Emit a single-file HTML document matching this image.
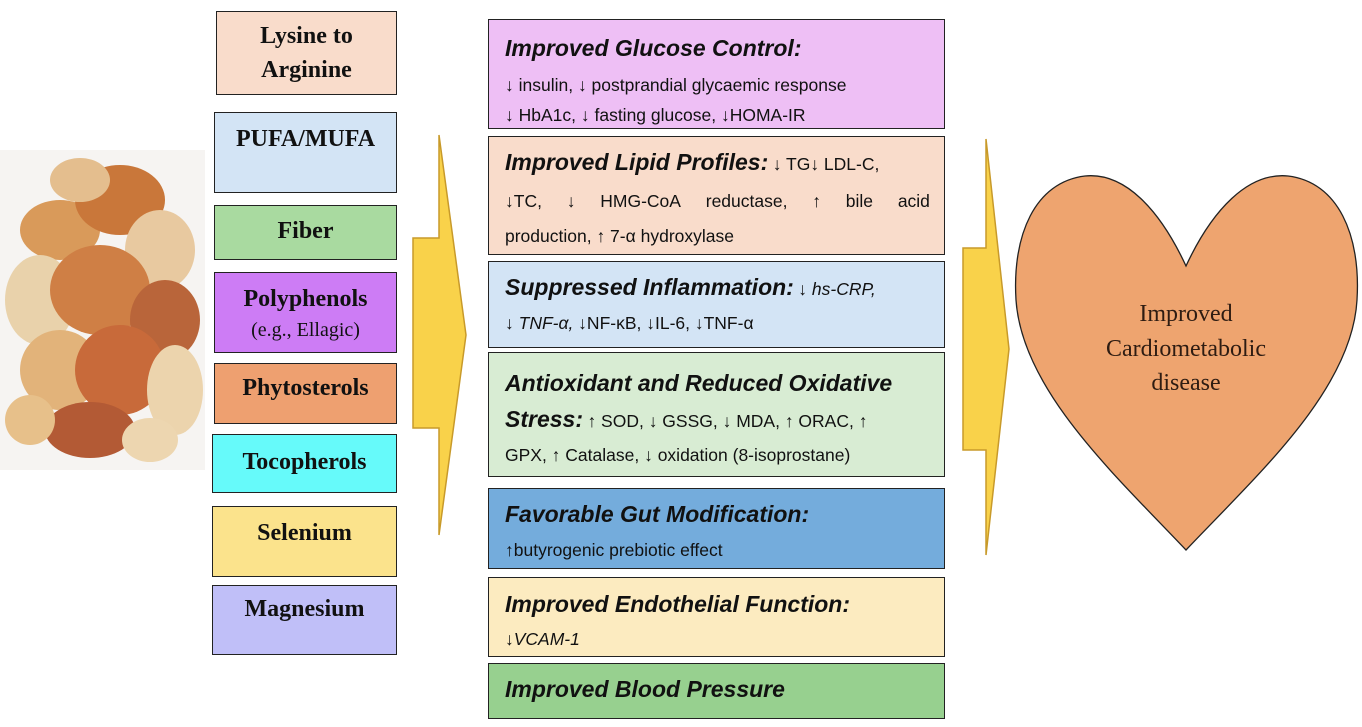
<!DOCTYPE html>
<html><head><meta charset="utf-8"><style>
body{margin:0;width:1362px;height:727px;background:#fff;position:relative;overflow:hidden;font-family:"Liberation Sans",sans-serif}
.l{position:absolute;border:1.5px solid #222;box-sizing:border-box;font-family:"Liberation Serif",serif;font-weight:bold;font-size:24px;color:#111;text-align:center}
.m{position:absolute;border:1.5px solid #222;box-sizing:border-box;left:488px;width:457px;padding:0 14px 0 16px;overflow:hidden;color:#111}
.h{font-weight:bold;font-style:italic;font-size:23px}
.b{font-size:17.5px}
.ln{position:absolute;left:16px;right:14px;white-space:nowrap}
</style></head><body>
<svg width="1362" height="727" style="position:absolute;left:0;top:0">
<g>
<rect x="0" y="150" width="205" height="320" fill="#f6f4f2"/>
<ellipse cx="60" cy="230" rx="40" ry="30" fill="#d99a5a"/>
<ellipse cx="120" cy="200" rx="45" ry="35" fill="#c9773a"/>
<ellipse cx="160" cy="250" rx="35" ry="40" fill="#e8c9a0"/>
<ellipse cx="40" cy="300" rx="35" ry="45" fill="#e9d2ab"/>
<ellipse cx="100" cy="290" rx="50" ry="45" fill="#cf7f45"/>
<ellipse cx="165" cy="320" rx="35" ry="40" fill="#b9653a"/>
<ellipse cx="60" cy="370" rx="40" ry="40" fill="#e2b37a"/>
<ellipse cx="120" cy="370" rx="45" ry="45" fill="#c86a3a"/>
<ellipse cx="175" cy="390" rx="28" ry="45" fill="#ecd4ad"/>
<ellipse cx="90" cy="430" rx="45" ry="28" fill="#b35a35"/>
<ellipse cx="30" cy="420" rx="25" ry="25" fill="#e7c08a"/>
<ellipse cx="150" cy="440" rx="28" ry="22" fill="#edd6b0"/>
<ellipse cx="80" cy="180" rx="30" ry="22" fill="#e4be8e"/>
</g>
<path d="M439,135 L466,335 L439,535 L439,428 L413,428 L413,238 L439,238 Z" fill="#f9d24a" stroke="#c89a2a" stroke-width="1.5"/>
<path d="M986,139 L1009,349 L986,555 L986,450 L963,450 L963,248 L986,248 Z" fill="#f9d24a" stroke="#c89a2a" stroke-width="1.5"/>
<path d="M1186,266 C1160,210 1125,172 1085,176 C1035,182 1012,235 1016,300 C1022,390 1115,475 1186,550 C1257,475 1352,390 1357,300 C1361,235 1338,182 1288,176 C1248,172 1212,210 1186,266 Z" fill="#eea46f" stroke="#222" stroke-width="1.3"/>
<text x="1186" y="321" font-family="Liberation Serif,serif" font-size="24" fill="#2e1c12" text-anchor="middle">Improved</text>
<text x="1186" y="356" font-family="Liberation Serif,serif" font-size="24" fill="#2e1c12" text-anchor="middle">Cardiometabolic</text>
<text x="1186" y="390" font-family="Liberation Serif,serif" font-size="24" fill="#2e1c12" text-anchor="middle">disease</text>
</svg>

<div class="l" style="left:216px;top:11px;width:181px;height:84px;background:#f9dccb;line-height:34px;padding-top:7px">Lysine to<br>Arginine</div>
<div class="l" style="left:214px;top:112px;width:183px;height:81px;background:#d3e4f5;padding-top:13px">PUFA/MUFA</div>
<div class="l" style="left:214px;top:205px;width:183px;height:55px;background:#a9daa0;line-height:50px">Fiber</div>
<div class="l" style="left:214px;top:272px;width:183px;height:81px;background:#cd7cf5;padding-top:11px;line-height:30px">Polyphenols<br><span style="font-weight:normal;font-size:20px">(e.g., Ellagic)</span></div>
<div class="l" style="left:214px;top:363px;width:183px;height:61px;background:#eea070;padding-top:11px">Phytosterols</div>
<div class="l" style="left:212px;top:434px;width:185px;height:59px;background:#66fafa;padding-top:14px">Tocopherols</div>
<div class="l" style="left:212px;top:506px;width:185px;height:71px;background:#fbe38c;padding-top:13px">Selenium</div>
<div class="l" style="left:212px;top:585px;width:185px;height:70px;background:#c0bff8;padding-top:10px">Magnesium</div>

<div class="m" style="top:19px;height:110px;background:#eebff5">
<div class="ln h" style="top:15px">Improved Glucose Control:</div>
<div class="ln b" style="top:55px">↓ insulin, ↓ postprandial glycaemic response</div>
<div class="ln b" style="top:85px">↓ HbA1c, ↓ fasting glucose, ↓HOMA-IR</div>
</div>
<div class="m" style="top:136px;height:119px;background:#f9dccb">
<div class="ln" style="top:12px"><span class="h">Improved Lipid Profiles:</span> <span class="b">↓ TG↓ LDL-C,</span></div>
<div class="ln b" style="top:54px;display:flex;justify-content:space-between"><span>↓TC,</span><span>↓</span><span>HMG-CoA</span><span>reductase,</span><span>↑</span><span>bile</span><span>acid</span></div>
<div class="ln b" style="top:89px">production, ↑ 7-α hydroxylase</div>
</div>
<div class="m" style="top:261px;height:87px;background:#d3e4f5">
<div class="ln" style="top:12px"><span class="h">Suppressed Inflammation:</span> <span class="b"><i>↓ hs-CRP,</i></span></div>
<div class="ln b" style="top:51px">↓ <i>TNF-α,</i> ↓NF-κB, ↓IL-6, ↓TNF-α</div>
</div>
<div class="m" style="top:352px;height:125px;background:#d8ecd3">
<div class="ln h" style="top:17px">Antioxidant and Reduced Oxidative</div>
<div class="ln" style="top:53px"><span class="h">Stress:</span> <span class="b">↑ SOD, ↓ GSSG, ↓ MDA, ↑ ORAC, ↑</span></div>
<div class="ln b" style="top:92px">GPX, ↑ Catalase, ↓ oxidation (8-isoprostane)</div>
</div>
<div class="m" style="top:488px;height:81px;background:#74acdc">
<div class="ln h" style="top:12px">Favorable Gut Modification:</div>
<div class="ln b" style="top:51px">↑butyrogenic prebiotic effect</div>
</div>
<div class="m" style="top:577px;height:80px;background:#fcebc0">
<div class="ln h" style="top:13px">Improved Endothelial Function:</div>
<div class="ln b" style="top:51px"><i>↓VCAM-1</i></div>
</div>
<div class="m" style="top:663px;height:56px;background:#97d08f">
<div class="ln h" style="top:12px">Improved Blood Pressure</div>
</div>
</body></html>
